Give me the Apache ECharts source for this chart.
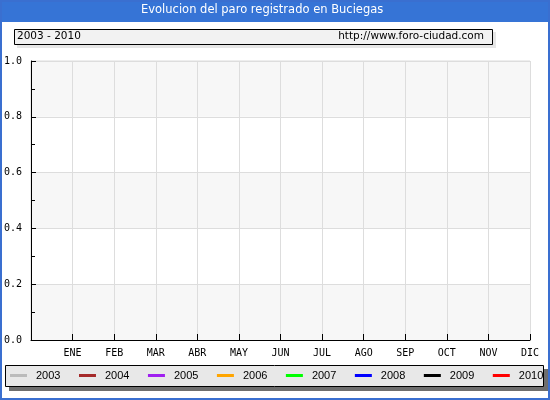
<!DOCTYPE html>
<html>
<head>
<meta charset="utf-8">
<script src="https://cdn.jsdelivr.net/npm/echarts@6/dist/echarts.min.js"></script>
<style>
  html, body { margin: 0; padding: 0; background: #fff; }
  #chart { width: 550px; height: 400px; }
</style>
</head>
<body>
<div id="chart"></div>
<script>
const months = ["ENE", "FEB", "MAR", "ABR", "MAY", "JUN", "JUL", "AGO", "SEP", "OCT", "NOV", "DIC"];
const years = ["2003", "2004", "2005", "2006", "2007", "2008", "2009", "2010"];
const yearColors = ["#bbbbbb", "#a52a2a", "#a020f0", "#ffa500", "#00ff00", "#0000ff", "#000000", "#ff0000"];
// no registered values in any year, so every series is empty
const paro = {
  "2003": [], "2004": [], "2005": [], "2006": [],
  "2007": [], "2008": [], "2009": [], "2010": []
};
const yMin = 0, yMax = 1.0;

const chart = echarts.init(document.getElementById("chart"));

const option = {
  animation: false,
  title: {
    text: "Evolucion del paro registrado en Buciegas",
    left: 141,
    top: 4,
    padding: 0,
    textStyle: { color: "#fff", fontFamily: "DejaVu Sans", fontSize: 11.5, fontWeight: "normal" }
  },
  graphic: [
    { type: "rect", z: -10, shape: { x: 0, y: 0, width: 550, height: 22 }, style: { fill: "#3674d6" } },
    { type: "rect", z: -10, shape: { x: 1, y: 1, width: 548, height: 398 }, style: { fill: null, stroke: "#3a6fd0", lineWidth: 2 } },
    // subtitle box
    { type: "rect", z: -5, shape: { x: 17, y: 32, width: 479, height: 16 }, style: { fill: "#e6e6e6" } },
    { type: "rect", z: -4, shape: { x: 14.5, y: 29.5, width: 478, height: 15 }, style: { fill: "#f2f2f2", stroke: "#000", lineWidth: 1 } },
    { type: "text", z: 5, left: 17, top: 31, style: { text: "2003 - 2010", fill: "#000", font: "10.5px DejaVu Sans" } },
    { type: "text", z: 5, right: 66, top: 31, style: { text: "http://www.foro-ciudad.com", fill: "#000", font: "10.5px DejaVu Sans" } },
    // legend box
    { type: "rect", z: -5, shape: { x: 9, y: 369, width: 539, height: 22 }, style: { fill: "#6e6e6e" } },
    { type: "rect", z: -4, shape: { x: 5.5, y: 365.5, width: 538, height: 21 }, style: { fill: "#e8e8e8", stroke: "#000", lineWidth: 1 } }
  ],
  legend: {
    left: 10,
    top: 370,
    width: 540,
    padding: 0,
    itemWidth: 17,
    itemHeight: 3,
    itemGap: 18.5,
    icon: "rect",
    data: years,
    textStyle: { color: "#000", fontFamily: "Liberation Sans", fontSize: 11, padding: [0, 0, 0, 4] }
  },
  grid: { left: 31, top: 61, right: 20, bottom: 60, show: true, borderColor: "#dddddd", borderWidth: 1 },
  xAxis: {
    type: "value",
    min: 0,
    max: 12,
    interval: 1,
    axisLine: { lineStyle: { color: "#000" } },
    axisTick: { inside: true, length: 6, lineStyle: { color: "#000" } },
    axisLabel: {
      margin: 8,
      color: "#000",
      fontFamily: "DejaVu Sans Mono",
      fontSize: 10,
      formatter: v => (v >= 1 ? months[v - 1] : "")
    },
    splitLine: { show: true, lineStyle: { color: "#dddddd" } }
  },
  yAxis: [
    {
      type: "value",
      position: "left",
      min: yMin,
      max: yMax,
      interval: 0.2,
      axisLine: { show: true, lineStyle: { color: "#000" } },
      axisTick: { show: true, inside: true, length: 5, lineStyle: { color: "#000" } },
      axisLabel: {
        margin: 9,
        color: "#000",
        fontFamily: "DejaVu Sans Mono",
        fontSize: 10,
        formatter: v => v.toFixed(1)
      },
      splitLine: { show: true, lineStyle: { color: "#dddddd" } },
      splitArea: { show: true, areaStyle: { color: ["#f7f7f7", "#ffffff"] } }
    },
    {
      // minor ticks every 0.1
      type: "value",
      position: "left",
      offset: 0,
      min: yMin,
      max: yMax,
      interval: 0.1,
      axisLine: { show: false },
      axisTick: { show: true, inside: true, length: 4, lineStyle: { color: "#000" } },
      axisLabel: { show: false },
      splitLine: { show: false }
    }
  ],
  series: years.map((y, i) => ({
    name: y,
    type: "line",
    data: paro[y],
    showSymbol: false,
    itemStyle: { color: yearColors[i] },
    lineStyle: { color: yearColors[i], width: 2 }
  }))
};

chart.setOption(option);
</script>
</body>
</html>
